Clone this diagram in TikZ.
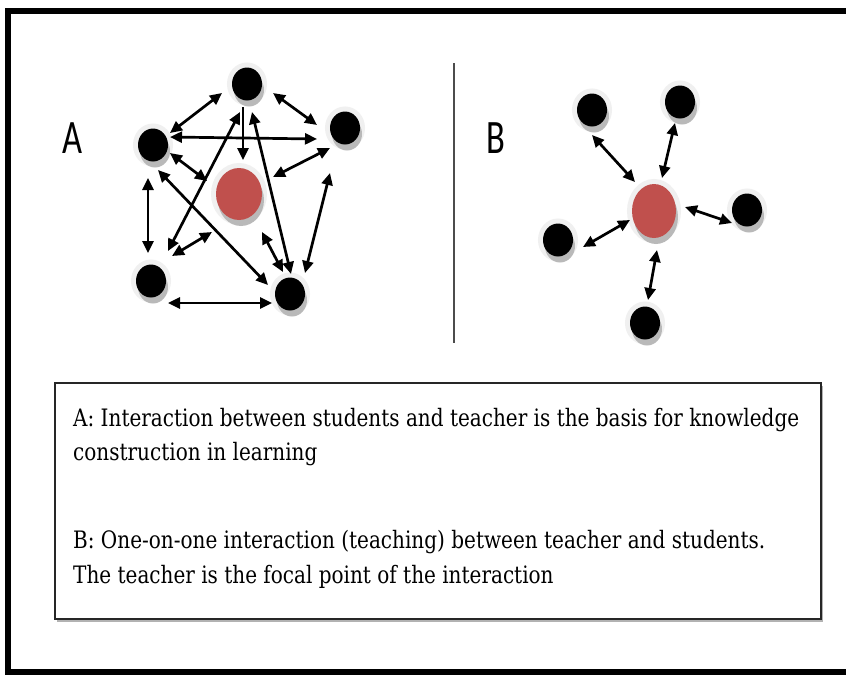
\documentclass[tikz,border=0pt]{standalone}
\usepackage{fontspec}
\setmainfont{DejaVu Serif}
\newfontfamily\labfont{Carlito}
\usetikzlibrary{arrows.meta,shapes.geometric,shadows}
\definecolor{tred}{HTML}{C0504D}
\newsavebox\lineonebox
\begin{document}
\sbox\lineonebox{\fontsize{24}{28}\selectfont A: Interaction between students and teacher is the basis for knowledge}%
\pgfmathsetmacro\sx{726/\the\wd\lineonebox}%
\begin{tikzpicture}[x=1pt,y=-1pt,
  halo/.style={preaction={draw=gray!12, line width=10pt},
    drop shadow={shadow xshift=2pt, shadow yshift=-6pt, fill=gray!55, opacity=1}},
  stud/.style={ellipse, fill=black, minimum width=30pt, minimum height=33pt, inner sep=0pt, halo},
  teach/.style={ellipse, fill=tred, inner sep=0pt, halo},
  link/.style={line width=2.7pt, {Triangle[length=12pt,width=11pt]}-{Triangle[length=12pt,width=11pt]}},
  one/.style={line width=2.7pt, -{Triangle[length=12pt,width=11pt]}},
  txt/.style={anchor=base west, inner sep=0pt, font=\fontsize{24}{28}\selectfont},
  lab/.style={anchor=base west, inner sep=0pt, font=\labfont\fontsize{48}{48}\selectfont}]
\useasboundingbox (0,0) rectangle (846,675);
\clip (0,0) rectangle (846,675);
\fill[white] (0,0) rectangle (846,675);
% outer frame
\draw[line width=6pt] (880,11) -- (8,11) -- (8,672) -- (880,672);
% separator
\draw[line width=1.5pt, gray!60!black] (454,63) -- (454,343);
% labels
\node[lab] (labA) at (62.5,153.3) {\scalebox{0.72}[1]{A}};
\node[lab] (labB) at (486.5,153.3) {\scalebox{0.72}[1]{B}};
% diagram A nodes
\node[stud] (T) at (247,84) {};
\node[stud] (UL) at (153,145) {};
\node[stud] (UR) at (345,128) {};
\node[stud] (LL) at (151,281) {};
\node[stud] (LR) at (290,294) {};
\node[teach, minimum width=46pt, minimum height=52pt] (CA) at (239,194) {};
% diagram A links
\draw[link] ([shift={(-25,9)}]T.center) -- ([shift={(17,-12)}]UL.center);
\draw[link] ([shift={(26,9)}]T.center) -- ([shift={(-28,-3)}]UR.center);
\draw[link] ([shift={(17,-8)}]UL.center) -- ([shift={(-28,11)}]UR.center);
\draw[one] ([shift={(-4,23)}]T.center) -- ([shift={(4,-34)}]CA.center);
\draw[link] ([shift={(-7,28)}]T.center) -- ([shift={(17,-30)}]LL.center);
\draw[link] ([shift={(5,28)}]T.center) -- ([shift={(1,-20)}]LR.center);
\draw[link] ([shift={(17,8)}]UL.center) -- ([shift={(-32,-13)}]CA.center);
\draw[link] ([shift={(5,25)}]UL.center) -- ([shift={(-22,-9)}]LR.center);
\draw[link] ([shift={(-5,33)}]UL.center) -- ([shift={(-3,-28)}]LL.center);
\draw[link] ([shift={(-15,20)}]UR.center) -- ([shift={(34,-17)}]CA.center);
\draw[link] ([shift={(-15,45)}]UR.center) -- ([shift={(15,-21)}]LR.center);
\draw[link] ([shift={(21,-25)}]LL.center) -- ([shift={(-27,38)}]CA.center);
\draw[link] ([shift={(17,22)}]LL.center) -- ([shift={(-18,9)}]LR.center);
\draw[link] ([shift={(23,38)}]CA.center) -- ([shift={(-7,-22)}]LR.center);
% diagram B nodes
\node[stud] (TL) at (592,110) {};
\node[stud] (TR) at (680,102) {};
\node[stud] (R) at (747,210) {};
\node[stud] (L) at (558,240) {};
\node[stud] (BT) at (645,323) {};
\node[teach, minimum width=44pt, minimum height=54pt] (CB) at (654,211) {};
% diagram B links
\draw[link] ([shift={(0,25)}]TL.center) -- ([shift={(-19,-29)}]CB.center);
\draw[link] ([shift={(-5,21)}]TR.center) -- ([shift={(8,-33)}]CB.center);
\draw[link] ([shift={(31,-4)}]CB.center) -- ([shift={(-15,13)}]R.center);
\draw[link] ([shift={(25,7)}]L.center) -- ([shift={(-24,9)}]CB.center);
\draw[link] ([shift={(3,39)}]CB.center) -- ([shift={(3,-23)}]BT.center);
% text box
\node[draw=gray!30!black, fill=white, line width=1.3pt, minimum width=766pt, minimum height=236pt, inner sep=0pt,
  drop shadow={shadow xshift=1.5pt, shadow yshift=-2.5pt, fill=gray!60, opacity=1}] (box) at (438,501) {};
\node[txt] (t1) at (73,426) {\scalebox{\sx}[1]{A: Interaction between students and teacher is the basis for knowledge}};
\node[txt] (t2) at (73,460) {\scalebox{\sx}[1]{construction in learning}};
\node[txt] (t3) at (73,548) {\scalebox{\sx}[1]{B: One-on-one interaction (teaching) between teacher and students.}};
\node[txt] (t4) at (73,583) {\scalebox{\sx}[1]{The teacher is the focal point of the interaction}};
\end{tikzpicture}
\end{document}
